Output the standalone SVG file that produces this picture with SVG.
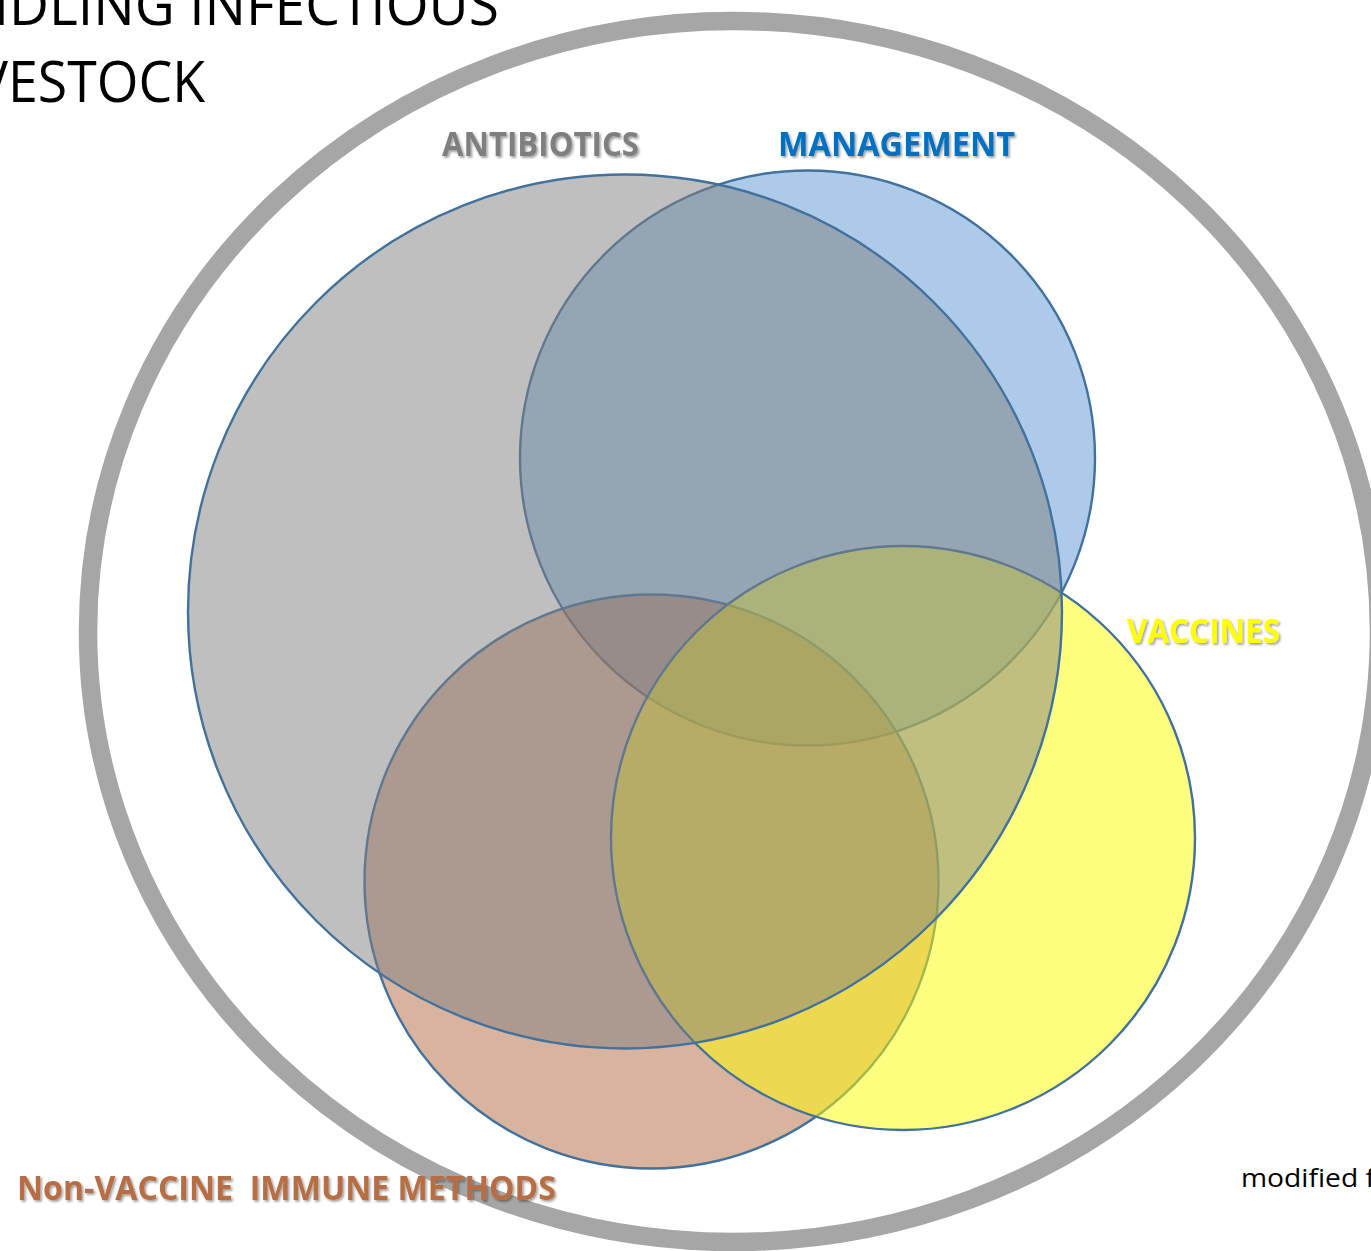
<svg xmlns="http://www.w3.org/2000/svg" width="1371" height="1251" viewBox="0 0 1371 1251">
  <defs>
    <filter id="soft-shadow" x="-10%" y="-30%" width="120%" height="160%">
      <feDropShadow dx="1.6" dy="1.8" stdDeviation="1.1" flood-color="#000000" flood-opacity="0.38"/>
    </filter>
    <style>
      .set { stroke: #41719c; stroke-width: 2.4; fill-opacity: 0.5; }
      .label { font-family: "Open Sans", "Liberation Sans", sans-serif; font-weight: 700; font-size: 34px; filter: url(#soft-shadow); }
      .title { font-family: "Open Sans", "Liberation Sans", sans-serif; font-size: 56px; fill: #000000; }
      .note { font-family: "Open Sans", "Liberation Sans", sans-serif; font-size: 26px; fill: #000000; }
    </style>
  </defs>

  <rect x="0" y="0" width="1371" height="1251" fill="#ffffff"/>

  <!-- heading, running off the left edge -->
  <g id="title">
    <text class="title" x="499" y="25" text-anchor="end" textLength="607" lengthAdjust="spacingAndGlyphs">HANDLING INFECTIOUS</text>
    <text class="title" x="-67" y="102" textLength="272" lengthAdjust="spacingAndGlyphs">LIVESTOCK</text>
  </g>

  <!-- outer boundary ring -->
  <g id="boundary">
    <ellipse cx="733.5" cy="631.5" rx="645.5" ry="610.5" fill="none" stroke="#a6a6a6" stroke-width="18.5"/>
  </g>

  <!-- overlapping sets, drawn back to front -->
  <g id="management">
    <circle class="set" cx="807.5" cy="458" r="287.5" fill="#5b97d1"/>
    <text class="label" x="778" y="156" fill="#0070c0" textLength="237" lengthAdjust="spacingAndGlyphs">MANAGEMENT</text>
  </g>

  <g id="non-vaccine-immune">
    <circle class="set" cx="651.5" cy="881.5" r="287" fill="#b1673d"/>
    <text class="label" x="17" y="1200" fill="#b76e45" textLength="539" lengthAdjust="spacingAndGlyphs" xml:space="preserve">Non-VACCINE  IMMUNE METHODS</text>
  </g>

  <g id="vaccines">
    <circle class="set" cx="903" cy="838" r="292" fill="#ffff00"/>
    <text class="label" x="1127" y="643" fill="#ffff00" textLength="153" lengthAdjust="spacingAndGlyphs">VACCINES</text>
  </g>

  <g id="antibiotics">
    <circle class="set" cx="625" cy="611.5" r="437" fill="#7f7f7f"/>
    <text class="label" x="442" y="156" fill="#7f7f7f" textLength="197" lengthAdjust="spacingAndGlyphs">ANTIBIOTICS</text>
  </g>

  <!-- source note, cut at the right edge -->
  <g id="source-note">
    <text class="note" x="1241" y="1187" textLength="134" lengthAdjust="spacingAndGlyphs">modified f</text>
  </g>
</svg>
